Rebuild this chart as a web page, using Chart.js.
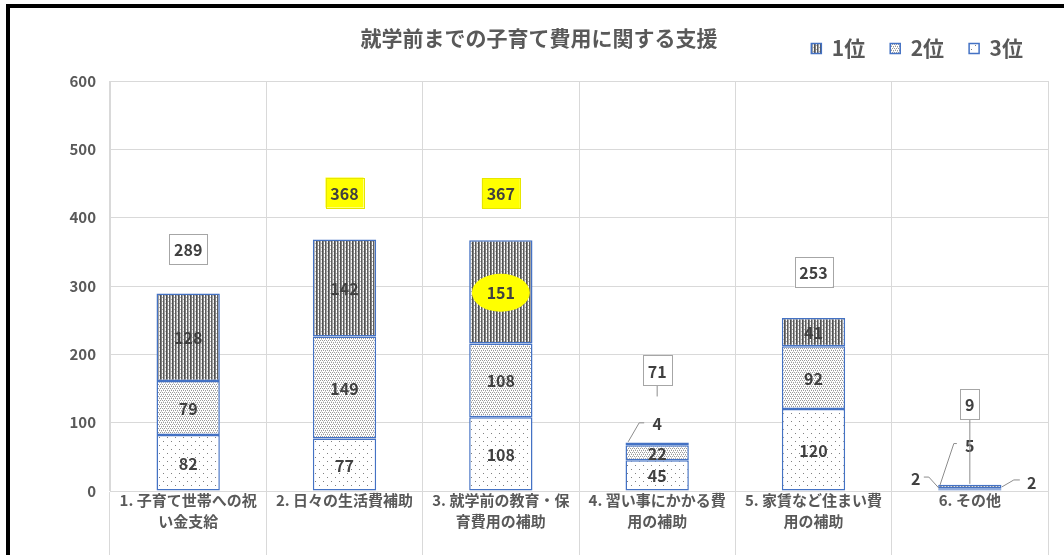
<!DOCTYPE html>
<html>
<head>
<meta charset="utf-8">
<script src="https://cdn.jsdelivr.net/npm/chart.js@4.4.1/dist/chart.umd.min.js"></script>
<style>
html, body { margin: 0; padding: 0; background: #fff; overflow: hidden; }
#frame { position: absolute; left: 6px; top: 4px; width: 1058px; height: 551px;
         border-left: 4px solid #000; border-top: 4px solid #000; box-sizing: border-box; }
#frame canvas { display: block; }
</style>
</head>
<body>
<div id="frame"><canvas id="barCanvas" width="1054" height="547"></canvas></div>
<script>
const categories = [
    ['1. 子育て世帯への祝', 'い金支給'],
    ['2. 日々の生活費補助'],
    ['3. 就学前の教育・保', '育費用の補助'],
    ['4. 習い事にかかる費', '用の補助'],
    ['5. 家賃など住まい費', '用の補助'],
    ['6. その他']
];
const rank1 = [128, 142, 151, 4, 41, 5];
const rank2 = [79, 149, 108, 22, 92, 2];
const rank3 = [82, 77, 108, 45, 120, 2];
const totals = [289, 368, 367, 71, 253, 9];
const yTicks = [0, 100, 200, 300, 400, 500, 600];

const FONT = "'Noto Sans CJK JP', 'Noto Sans', sans-serif";
const GRAY = '#595959';
const DARK = '#404040';
const BLUE = '#4472c4';

// label placement (pixels), separate from the data
const totalLift = [45, 47, 47, 72, 46, 81];
const totalLeader = [null, null, null, 46, null, 1];
const totalHighlight = [false, true, true, false, false, false];
const callouts = {
    'r1-3': { dx: 0, dy: -21, path: [[-13, -21], [-18, -21], [-29, -2]] },
    'r1-5': { dx: 0, dy: -42, path: [[-13, -43], [-16, -43], [-30, -1]] },
    'r3-5': { dx: -54, dy: -12, path: [[-46, -13], [-41, -13], [-31, -2]] },
    'r2-5': { dx: 62, dy: -7, path: [[50, -9], [44, -9], [32, -2]] }
};

function makePattern(w, h, draw) {
    const c = document.createElement('canvas');
    c.width = w; c.height = h;
    const g = c.getContext('2d');
    g.fillStyle = '#fff';
    g.fillRect(0, 0, w, h);
    draw(g);
    return g.createPattern(c, 'repeat');
}

// 1位: dark vertical stripes
const pat1 = makePattern(6, 4, g => {
    const cols = ['#505050', '#808080', '#ffffff', '#5c5c5c', '#a0a0a0', '#f2f2f2'];
    cols.forEach((c, x) => { g.fillStyle = c; g.fillRect(x, 0, 1, 4); });
    g.fillStyle = '#b0b0b0';
    g.fillRect(2, 1, 1, 1);
    g.fillRect(5, 3, 1, 1);
});
// 2位: dense dots
const pat2 = makePattern(4, 4, g => {
    g.fillStyle = '#9a9a9a';
    [[0, 0], [2, 0], [1, 2], [3, 2]].forEach(([x, y]) => g.fillRect(x, y, 1, 1));
    g.fillStyle = '#d0d0d0';
    [[1, 1], [3, 3]].forEach(([x, y]) => g.fillRect(x, y, 1, 1));
});
// 3位: sparse dots
const pat3 = makePattern(8, 8, g => {
    g.fillStyle = '#808080';
    g.fillRect(1, 1, 1, 1);
    g.fillRect(5, 5, 1, 1);
});

// extra room between the legend row and the plot
const legendGap = {
    id: 'legendGap',
    beforeInit(chart) {
        const fit = chart.legend.fit;
        chart.legend.fit = function () {
            fit.call(this);
            this.height += 12;
        };
    }
};

const titlePlugin = {
    id: 'titleText',
    afterDraw(chart) {
        const ctx = chart.ctx;
        ctx.save();
        ctx.font = 'bold 21px ' + FONT;
        ctx.fillStyle = GRAY;
        ctx.textAlign = 'center';
        ctx.textBaseline = 'middle';
        ctx.fillText('就学前までの子育て費用に関する支援', 529, 30);
        ctx.restore();
    }
};

const valueLabels = {
    id: 'valueLabels',
    afterDatasetsDraw(chart) {
        const ctx = chart.ctx;
        ctx.save();
        ctx.font = 'bold 16px ' + FONT;
        ctx.textAlign = 'center';
        ctx.textBaseline = 'middle';
        chart.data.datasets.forEach((ds, di) => {
            chart.getDatasetMeta(di).data.forEach((bar, i) => {
                const cx = bar.x, cy = (bar.y + bar.base) / 2;
                const key = ds.key + '-' + i;
                const c = callouts[key];
                let tx = cx, ty = cy;
                if (c) {
                    tx = cx + c.dx; ty = cy + c.dy;
                    ctx.strokeStyle = '#8c8c8c';
                    ctx.lineWidth = 1;
                    ctx.beginPath();
                    c.path.forEach(([px, py], k) => {
                        if (k) ctx.lineTo(cx + px, cy + py); else ctx.moveTo(cx + px, cy + py);
                    });
                    ctx.stroke();
                }
                if (key === 'r1-2') {
                    ctx.fillStyle = '#ffff00';
                    ctx.beginPath();
                    ctx.ellipse(cx, cy + 1, 29, 19, 0, 0, Math.PI * 2);
                    ctx.fill();
                }
                ctx.fillStyle = DARK;
                ctx.fillText(String(ds.data[i]), tx, ty + 1);
            });
        });
        const topMeta = chart.getDatasetMeta(chart.data.datasets.length - 1);
        topMeta.data.forEach((bar, i) => {
            const x = bar.x, y = bar.y - totalLift[i];
            const txt = String(totals[i]);
            const w = Math.round(ctx.measureText(txt).width + 10), h = 30;
            if (totalLeader[i] !== null) {
                ctx.strokeStyle = '#8c8c8c';
                ctx.lineWidth = 1;
                ctx.beginPath();
                ctx.moveTo(x, y + h / 2);
                ctx.lineTo(x, bar.y - totalLeader[i]);
                ctx.stroke();
            }
            ctx.fillStyle = totalHighlight[i] ? '#ffff00' : '#fff';
            ctx.fillRect(x - w / 2, y - h / 2, w, h);
            ctx.strokeStyle = totalHighlight[i] ? '#e6e600' : '#a6a6a6';
            ctx.lineWidth = 1;
            ctx.strokeRect(Math.round(x - w / 2) + 0.5, Math.round(y - h / 2) + 0.5, w, h);
            ctx.fillStyle = DARK;
            ctx.fillText(txt, x, y + 1);
        });
        ctx.restore();
    }
};

const barCanvas = document.getElementById('barCanvas');
new Chart(barCanvas, {
    type: 'bar',
    data: {
        labels: categories,
        datasets: [
            { key: 'r3', label: '3位', data: rank3, backgroundColor: pat3 },
            { key: 'r2', label: '2位', data: rank2, backgroundColor: pat2 },
            { key: 'r1', label: '1位', data: rank1, backgroundColor: pat1 }
        ].map(d => Object.assign(d, {
            borderColor: BLUE, borderWidth: 1.5, borderSkipped: false,
            barPercentage: 0.405, categoryPercentage: 1
        }))
    },
    options: {
        responsive: false,
        animation: false,
        layout: { padding: { left: 0, right: 16, top: 5, bottom: 0 } },
        plugins: {
            legend: {
                position: 'top',
                align: 'end',
                reverse: true,
                labels: {
                    boxWidth: 10, boxHeight: 10, padding: 25,
                    color: GRAY,
                    font: { family: FONT, size: 21, weight: 'bold' }
                }
            },
            tooltip: { enabled: false }
        },
        scales: {
            x: {
                stacked: true,
                grid: { color: '#d9d9d9', offset: true, tickLength: 64 },
                border: { color: '#d9d9d9' },
                ticks: {
                    padding: -66, color: GRAY, maxRotation: 0, autoSkip: false,
                    font: { family: FONT, size: 15, weight: 'bold', lineHeight: 1.45 }
                },
                afterFit(s) { s.height = 64; }
            },
            y: {
                stacked: true,
                min: yTicks[0],
                max: yTicks[yTicks.length - 1],
                ticks: {
                    stepSize: yTicks[1] - yTicks[0], padding: 14, color: GRAY,
                    font: { family: FONT, size: 15, weight: 'bold' }
                },
                grid: { color: '#d9d9d9', drawTicks: false },
                border: { color: '#d9d9d9' },
                afterFit(s) { s.width = 100; }
            }
        }
    },
    plugins: [legendGap, valueLabels, titlePlugin]
});
</script>
</body>
</html>
